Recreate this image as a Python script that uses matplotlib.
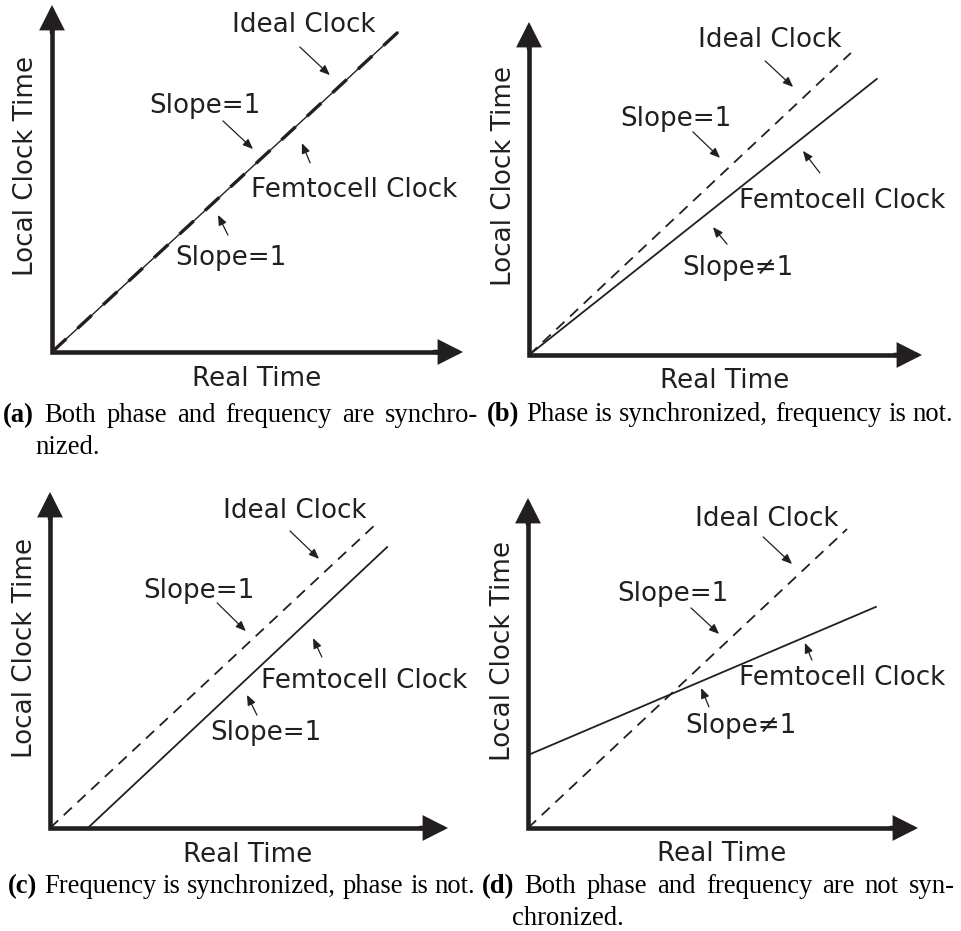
import matplotlib
matplotlib.use("Agg")
import matplotlib.pyplot as plt
from matplotlib.transforms import offset_copy

plt.rcParams['font.family'] = ['DejaVu Sans']
plt.rcParams['lines.scale_dashes'] = False

W, H = 962, 931
INK = '#231f20'

# clock lines for each panel, axis units (both axes run 0..10)
ideal_start = [(0, 0), (0, 0), (0, 0), (0, 0)]
ideal_end = [(8.42, 9.22), (8.19, 9.07), (8.22, 9.08), (8.18, 9.06)]
femto_start = [(0, 0), (0, 0), (0.95, 0), (0, 2.21)]
femto_end = [(8.42, 9.22), (8.85, 8.29), (8.47, 8.36), (8.92, 6.70)]

slope_ideal = ["Slope=1"] * 4
slope_femto = ["Slope=1", "Slope\u22601", "Slope=1", "Slope\u22601"]
tags = ["(a)", "(b)", "(c)", "(d)"]
captions = [
    ["Both phase and frequency are synchro-", "nized."],
    ["Phase is synchronized, frequency is not."],
    ["Frequency is synchronized, phase is not."],
    ["Both phase and frequency are not syn-", "chronized."],
]

# layout: origin pixel (x, y), x-axis length, y-axis length
boxes = [(52, 352, 411, 347), (529, 355, 393, 333),
         (50, 828, 398, 336), (528, 828, 390, 330)]

# label placement: (text centre, arrow tail, arrow head) for
# ideal clock, slope of ideal, femtocell clock, slope of femtocell
notes = [
    [((6.13, 9.48), (6.03, 8.79), (6.76, 7.98)),
     ((3.72, 7.15), (4.16, 6.66), (4.89, 5.85)),
     ((7.35, 4.73), (6.28, 5.45), (6.08, 6.02)),
     ((4.36, 2.77), (4.28, 3.37), (4.04, 3.95))],
    [((6.13, 9.52), (6.01, 8.83), (6.72, 8.05)),
     ((3.73, 7.15), (4.17, 6.70), (4.86, 5.92)),
     ((7.96, 4.71), (7.40, 5.47), (6.97, 6.13)),
     ((5.32, 2.70), (5.04, 3.33), (4.68, 3.84))],
    [((6.16, 9.52), (6.03, 8.84), (6.76, 8.01)),
     ((3.74, 7.14), (4.20, 6.70), (4.92, 5.86)),
     ((7.89, 4.46), (6.83, 5.09), (6.61, 5.65)),
     ((5.43, 2.89), (5.20, 3.36), (4.95, 3.96))],
    [((6.13, 9.45), (6.03, 8.82), (6.77, 8.00)),
     ((3.72, 7.15), (4.18, 6.67), (4.90, 5.88)),
     ((8.05, 4.61), (7.28, 5.09), (7.10, 5.61)),
     ((5.46, 3.18), (4.64, 3.67), (4.44, 4.24))],
]

# caption lines: (x start, baseline y, x end or None when not justified)
caption_pos = [
    [(3, 422, 478), (35, 454, None)],
    [(487, 421, None)],
    [(8, 893, None)],
    [(482, 893, 955), (512, 925, None)],
]

FS = 18.8
CAP_FS = 19.2

fig = plt.figure(figsize=(W / 100, H / 100), dpi=100)
fig.patch.set_facecolor('white')


def sans(ax, x, y, s, **kw):
    # (x, y) is the middle of the capitals
    tr = offset_copy(ax.transData, fig=fig, y=-6.8, units='points')
    ax.text(x, y, s, transform=tr, fontsize=FS, color=INK,
            ha='center', va='baseline', clip_on=False, **kw)


def small_arrow(ax, tail, head):
    ax.annotate('', xy=head, xytext=tail, annotation_clip=False,
                arrowprops=dict(arrowstyle='-|>,head_length=0.6,head_width=0.25',
                                mutation_scale=10, lw=0.9, color=INK,
                                shrinkA=0, shrinkB=0))


for i in range(4):
    ox, oy, lx, ly = boxes[i]
    ax = fig.add_axes([ox / W, 1 - oy / H, lx / W, ly / H])
    ax.set_xlim(0, 10)
    ax.set_ylim(0, 10)
    ax.axis('off')

    # axes drawn as an L with big arrow heads
    ax.plot([0, 0, 9.6], [9.5, 0, 0], color=INK, lw=3.3, clip_on=False,
            solid_joinstyle='miter', solid_capstyle='butt')
    for tail, tip in [((0, 9.2), (0, 10)), ((9.3, 0), (10, 0))]:
        ax.annotate('', xy=tip, xytext=tail, annotation_clip=False,
                    arrowprops=dict(arrowstyle='-|>,head_length=1.3,head_width=0.66',
                                    mutation_scale=10, lw=3.3, color=INK,
                                    shrinkA=0, shrinkB=0, joinstyle='miter'))

    fx = [femto_start[i][0], femto_end[i][0]]
    fy = [femto_start[i][1], femto_end[i][1]]
    ix = [ideal_start[i][0], ideal_end[i][0]]
    iy = [ideal_start[i][1], ideal_end[i][1]]
    if i == 0:
        ax.plot(fx, fy, color=INK, lw=1.0, clip_on=False)
        ax.plot(ix, iy, color=INK, lw=2.4, clip_on=False,
                linestyle=(0, (14, 11)), dash_capstyle='butt')
    else:
        ax.plot(fx, fy, color=INK, lw=1.3, clip_on=False)
        ax.plot(ix, iy, color=INK, lw=1.3, clip_on=False,
                linestyle=(0, (8, 5.5)), dash_capstyle='butt')

    texts = ["Ideal Clock", slope_ideal[i], "Femtocell Clock", slope_femto[i]]
    for s, (pos, tail, head) in zip(texts, notes[i]):
        sans(ax, pos[0], pos[1], s)
        small_arrow(ax, tail, head)

    sans(ax, 4.97, -0.72, "Real Time")
    tr = offset_copy(ax.transData, fig=fig, x=6.8, units='points')
    ax.text(-0.7, 5.37, "Local Clock Time", transform=tr, fontsize=FS,
            color=INK, rotation=90, rotation_mode='anchor',
            ha='center', va='baseline', clip_on=False)

# captions, placed word by word so the long ones can be justified
renderer = fig.canvas.get_renderer()
space = 0.25 * CAP_FS * 100 / 72
for i in range(4):
    for k, (line, (x0, yb, x1)) in enumerate(zip(captions[i], caption_pos[i])):
        words = line.split(' ')
        if k == 0:
            words = [tags[i]] + words
        items = []
        for j, w in enumerate(words):
            bold = (k == 0 and j == 0)
            t = fig.text(0, 1 - yb / H, w, fontsize=CAP_FS, color='black',
                         family='Liberation Serif',
                         weight='bold' if bold else 'normal',
                         ha='left', va='baseline')
            items.append(t)
        widths = [t.get_window_extent(renderer).width for t in items]
        gap = space
        if x1 is not None and len(items) > 1:
            gap = (x1 - x0 - sum(widths)) / (len(items) - 1)
        x = x0
        for t, w in zip(items, widths):
            t.set_x(x / W)
            x += w + gap

fig.savefig('out.png', dpi=100, facecolor='white')
